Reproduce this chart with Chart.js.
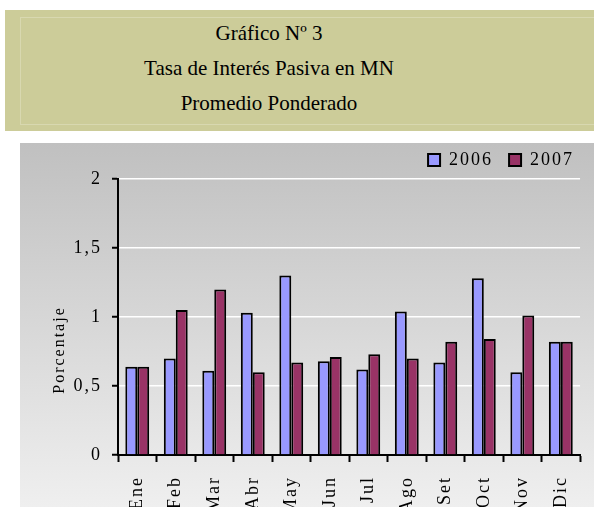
<!DOCTYPE html>
<html>
<head>
<meta charset="utf-8">
<script src="https://cdn.jsdelivr.net/npm/chart.js@4/dist/chart.umd.min.js"></script>
<style>
  html, body { margin:0; padding:0; background:#ffffff; width:594px; height:507px; overflow:hidden; }
  #titlebox { position:absolute; left:5px; top:10px; width:620px; height:121px; background:#cccc99; }
  #titleinner { position:absolute; left:15px; top:7px; width:640px; height:106px; border-left:1px solid #d8d8b0; border-top:1px solid #d8d8b0; border-bottom:1px solid #d8d8b0; }
  #titletext { position:absolute; left:0; top:16px; width:538px; text-align:center; font-family:"Liberation Serif"; font-size:21px; line-height:35px; color:#000; }
  #panel { position:absolute; left:20px; top:143px; width:574px; height:364px; overflow:hidden; background:linear-gradient(#c0c0c0, #efefef); }
  #c { position:absolute; left:0; top:0; }
</style>
</head>
<body>
<div id="titlebox"><div id="titleinner"></div></div>
<div id="titletext">Gráfico Nº 3<br>Tasa de Interés Pasiva en MN<br>Promedio Ponderado</div>
<div id="panel"><canvas id="c" width="577" height="400"></canvas></div>
<script>
const months = ['Ene','Feb','Mar','Abr','May','Jun','Jul','Ago','Set','Oct','Nov','Dic'];
const series2006 = [0.64,0.70,0.61,1.03,1.30,0.68,0.62,1.04,0.67,1.28,0.60,0.82];
const series2007 = [0.64,1.05,1.20,0.60,0.67,0.71,0.73,0.70,0.82,0.84,1.01,0.82];
const yTickLabels = ['0','0,5','1','1,5','2'];
const yTitle = 'Porcentaje';

const FONT = {family: '"Liberation Serif"', size: 18};
const TITLE_FONT_SIZE = 16;

const spacingPlugin = {
  id: 'spacing',
  beforeUpdate(chart) { chart.ctx.letterSpacing = '2px'; },
  beforeDraw(chart) {
    chart.ctx.letterSpacing = '2px';
    if (chart.legend) { chart.legend.right = chart.chartArea.right + 10; }
  },
  afterDraw(chart) {
    const ctx = chart.ctx;
    const a = chart.chartArea;
    ctx.save();
    ctx.letterSpacing = '2px';
    ctx.font = TITLE_FONT_SIZE + 'px ' + FONT.family;
    ctx.fillStyle = '#000';
    ctx.textAlign = 'center';
    ctx.textBaseline = 'middle';
    ctx.translate(a.left - 58, a.top + 171);
    ctx.rotate(-Math.PI / 2);
    ctx.fillText(yTitle, 0, 0);
    ctx.restore();
  }
};

new Chart(document.getElementById('c'), {
  type: 'bar',
  data: {
    labels: months,
    datasets: [
      {label: '2006', data: series2006, backgroundColor: '#9999ff', borderColor: '#000000', borderWidth: 2,
       categoryPercentage: 0.62, barPercentage: 1.0},
      {label: '2007', data: series2007, backgroundColor: '#993366', borderColor: '#000000', borderWidth: 2,
       categoryPercentage: 0.62, barPercentage: 1.0}
    ]
  },
  options: {
    responsive: false,
    animation: false,
    devicePixelRatio: 1,
    layout: {padding: {top: -8, right: 14, left: 0, bottom: 0}},
    plugins: {
      legend: {
        position: 'top', align: 'end',
        labels: {boxWidth: 12, boxHeight: 12, padding: 16, color: '#000', font: FONT}
      },
      tooltip: {enabled: false}
    },
    scales: {
      x: {
        offset: true,
        grid: {display: true, drawOnChartArea: false, offset: true, tickLength: 7, tickColor: '#000', tickWidth: 2},
        border: {display: true, color: '#000', width: 2},
        ticks: {color: '#000', font: FONT, minRotation: 90, maxRotation: 90, padding: 14, autoSkip: false},
        afterFit(scale) { scale.height = 88; }
      },
      y: {
        min: 0, max: 2,
        grid: {
          color: (c) => (c.tick && c.tick.value === 0) ? 'rgba(0,0,0,0)' : '#ffffff',
          lineWidth: 1.5, tickLength: 6, tickColor: '#000', tickWidth: 2
        },
        border: {display: true, color: '#000', width: 2},
        ticks: {
          stepSize: 0.5, color: '#000', font: FONT, padding: 10,
          callback: (v, i) => yTickLabels[i]
        },
        afterFit(scale) { scale.width = 98; }
      }
    }
  },
  plugins: [spacingPlugin]
});
</script>
</body>
</html>
